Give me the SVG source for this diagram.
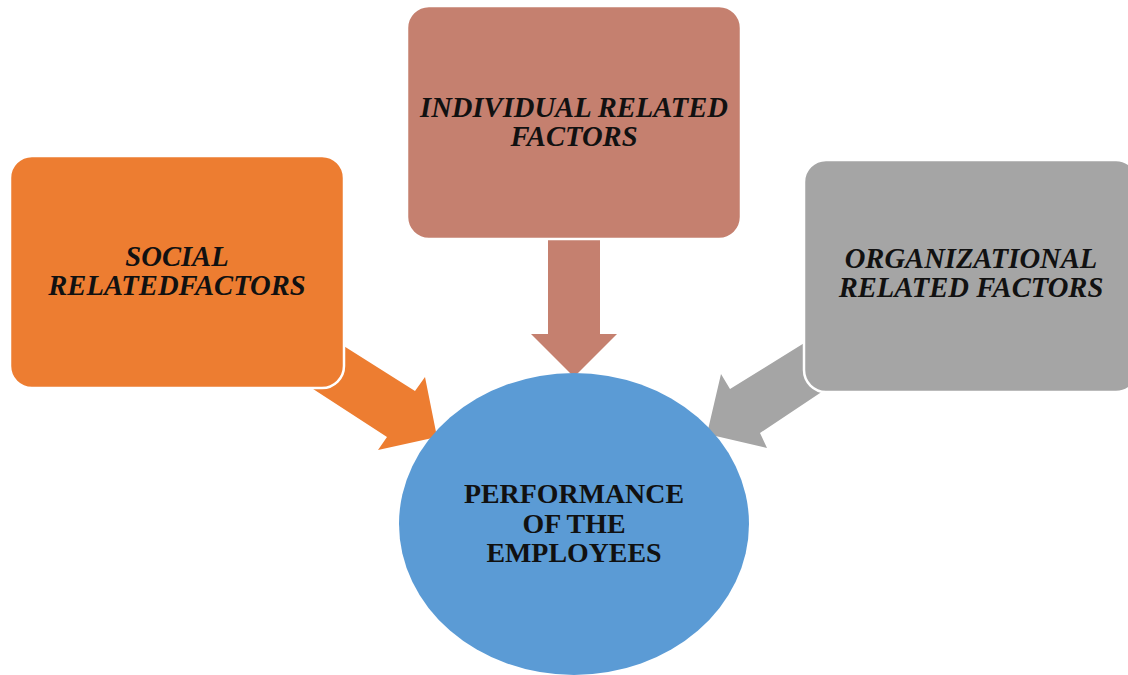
<svg xmlns="http://www.w3.org/2000/svg" width="1128" height="675" viewBox="0 0 1128 675">
<style>
.box{stroke:#fff;stroke-width:2.5}
.lbl{font-family:"Liberation Serif","Times New Roman",serif;font-weight:bold;font-style:italic;font-size:28.6px;fill:#111;text-anchor:middle}
.ctr{font-family:"Liberation Serif","Times New Roman",serif;font-weight:bold;font-size:27.9px;fill:#111;text-anchor:middle}
</style>
<rect width="1128" height="675" fill="#fff"/>
<g id="connectors">
<polygon id="arrow-social" fill="#ED7D31" points="320,331 415,391 425,377 437,437 378,450 387,437 290,374"/>
<polygon id="arrow-individual" fill="#C5806F" points="548,240 600,240 600,334 617,334 574,377 531,334 548,334"/>
<polygon id="arrow-org" fill="#A5A5A5" points="830,327 730,389 721,374 707,434 767,448 760,433 850,373"/>
</g>
<g id="node-performance">
<ellipse cx="574" cy="524" rx="175" ry="151" fill="#5B9BD5"/>
<text class="ctr" x="574" y="503">PERFORMANCE</text>
<text class="ctr" x="574" y="533">OF THE</text>
<text class="ctr" x="574" y="562">EMPLOYEES</text>
</g>
<g id="node-social">
<rect class="box" x="10" y="156" width="334" height="232" rx="22" fill="#ED7D31"/>
<text class="lbl" x="177" y="266">SOCIAL</text>
<text class="lbl" x="177" y="295">RELATEDFACTORS</text>
</g>
<g id="node-individual">
<rect class="box" x="407" y="6" width="334" height="233" rx="22" fill="#C5806F"/>
<text class="lbl" x="574" y="117">INDIVIDUAL RELATED</text>
<text class="lbl" x="574" y="146">FACTORS</text>
</g>
<g id="node-org">
<rect class="box" x="804" y="160" width="334" height="232" rx="22" fill="#A5A5A5"/>
<text class="lbl" x="971" y="268">ORGANIZATIONAL</text>
<text class="lbl" x="971" y="297">RELATED FACTORS</text>
</g>
</svg>
